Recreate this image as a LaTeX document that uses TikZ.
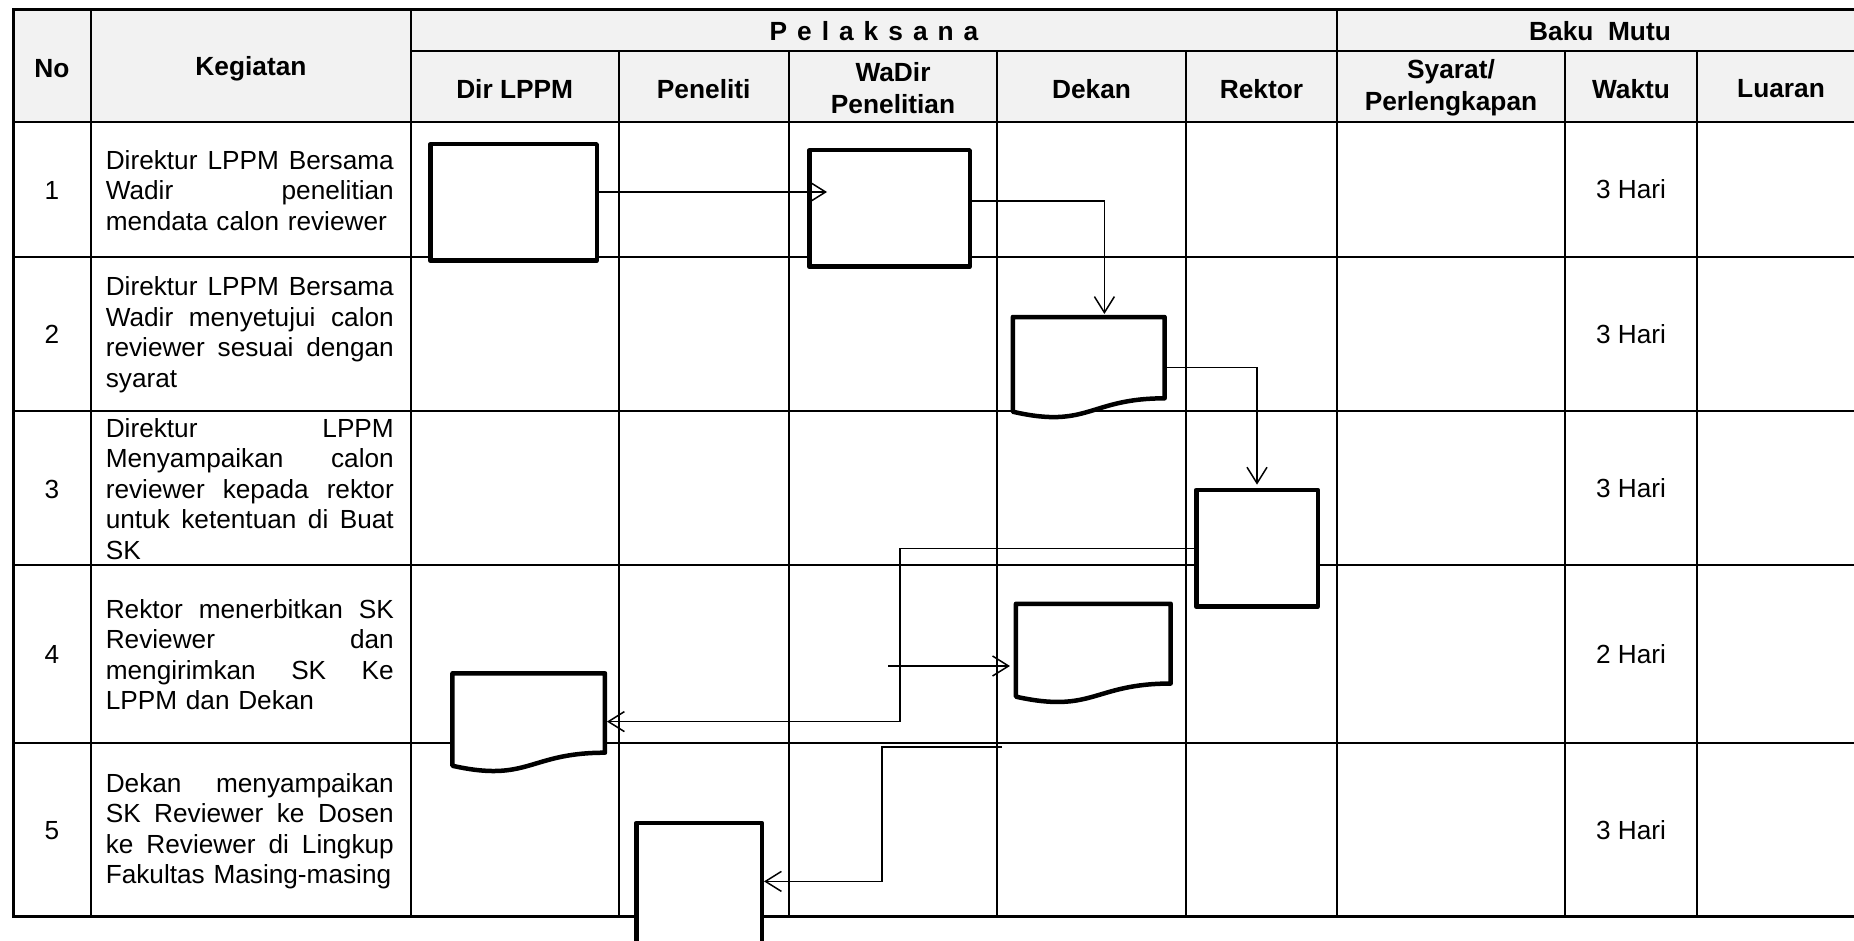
\documentclass[tikz,border=0pt]{standalone}
\usepackage{fontspec}
\setmainfont{Liberation Sans}
\usetikzlibrary{arrows.meta,calc}
\definecolor{hdr}{RGB}{242,242,242}
\newcommand{\jl}[1]{\leavevmode{\spaceskip=0.278em plus 1fil\relax\hbox to 288pt{#1}}}
\newcommand{\docpath}[1]{%
  \draw[docline] (#1.north west) -- (#1.north east)
    -- ($(#1.north east)!0.802!(#1.south east)$)
    .. controls ($(#1.north)!0.802!(#1.south)$) and ($(#1.north)!1.107!(#1.south)$)
    .. ($(#1.north west)!0.934!(#1.south west)$) -- cycle;}
\tikzset{
  gridline/.style={line width=2pt},
  frameline/.style={line width=3pt, line cap=rect},
  procbox/.style={rectangle, draw, fill=white, line width=4.5pt, line join=round, inner sep=0pt},
  docbox/.style={rectangle, inner sep=0pt, outer sep=0pt},
  docline/.style={draw, fill=white, line width=4.5pt, line join=round},
  conn/.style={line width=1.5pt, -{Straight Barb[length=16pt,width=20pt]}},
  hd/.style={font=\fontsize{26.3}{32}\selectfont\bfseries, align=center, inner sep=0pt},
  bt/.style={font=\fontsize{26.2}{30.5}\selectfont, text width=300pt, align=left, inner sep=0pt, anchor=west},
  num/.style={font=\fontsize{26.2}{30.5}\selectfont, inner sep=0pt},
}
\begin{document}
\begin{tikzpicture}[x=1pt,y=-1pt]
\useasboundingbox (0,0) rectangle (1854,941);
% header background
\fill[hdr] (13,10) rectangle (1865,122);
% horizontal lines
\draw[frameline] (13,10) -- (1865,10);
\draw[gridline] (411,51) -- (1865,51);
\draw[gridline, line width=2.7pt] (13,122) -- (1865,122);
\foreach \y in {257,410.7,565,742.7} \draw[gridline] (13,\y) -- (1865,\y);
\draw[frameline] (13,916.5) -- (1865,916.5);
% vertical lines
\draw[frameline] (13,10) -- (13,916.5);
\draw[gridline] (91,10) -- (91,916.5);
\draw[gridline] (411,10) -- (411,916.5);
\foreach \x in {618.5,789,997,1186,1565,1697} \draw[gridline] (\x,51) -- (\x,916.5);
\draw[gridline, line width=2.7pt] (1337,10) -- (1337,916.5);

% header texts
\node[hd] (hNo) at (52,68.5) {No};
\node[hd] (hKeg) at (251,68.5) {Kegiatan};
\node[hd] (hPel) at (874,31) {{\spaceskip=10pt\relax P e l a k s a n a}};
\node[hd] (hBaku) at (1600,31) {Baku\ \ Mutu};
\node[hd] (hDir) at (514.7,89) {Dir LPPM};
\node[hd] (hPen) at (703.7,89) {Peneliti};
\node[hd] (hWa) at (893,88) {WaDir\\Penelitian};
\node[hd] (hDek) at (1091.5,89) {Dekan};
\node[hd] (hRek) at (1261.5,89) {Rektor};
\node[hd] (hSya) at (1451,88) {Syarat/\\Perlengkapan};
\node[hd] (hWak) at (1631,89) {Waktu};
\node[hd] (hLua) at (1781,89) {Luaran};

% numbers
\node[num] (n1) at (52,190.5) {1};
\node[num] (n2) at (52,334.5) {2};
\node[num] (n3) at (52,489) {3};
\node[num] (n4) at (52,654.5) {4};
\node[num] (n5) at (52,831) {5};

% activities
\node[bt] (k1) at (105.6,190.5) {\jl{Direktur LPPM Bersama}\\\jl{Wadir penelitian}\\mendata calon reviewer};
\node[bt] (k2) at (105.6,334.5) {\jl{Direktur LPPM Bersama}\\\jl{Wadir menyetujui calon}\\\jl{reviewer sesuai dengan}\\syarat};
\node[bt] (k3) at (105.6,489) {\jl{Direktur LPPM}\\\jl{Menyampaikan calon}\\\jl{reviewer kepada rektor}\\\jl{untuk ketentuan di Buat}\\SK};
\node[bt] (k4) at (105.6,654.5) {\jl{Rektor menerbitkan SK}\\\jl{Reviewer dan}\\\jl{mengirimkan SK Ke}\\LPPM dan Dekan};
\node[bt] (k5) at (105.6,831) {\jl{Dekan menyampaikan}\\\jl{SK Reviewer ke Dosen}\\\jl{ke Reviewer di Lingkup}\\Fakultas Masing-masing};

% waktu
\node[num] (w1) at (1631,189.5) {3 Hari};
\node[num] (w2) at (1631,333.8) {3 Hari};
\node[num] (w3) at (1631,487.8) {3 Hari};
\node[num] (w4) at (1631,654) {2 Hari};
\node[num] (w5) at (1631,830) {3 Hari};

% flow shapes
\node[procbox, minimum width=166.5pt, minimum height=116.5pt] (A) at (513.5,202.5) {};
\node[procbox, minimum width=160.5pt, minimum height=116.5pt] (B) at (889.5,208.5) {};
\node[docbox, minimum width=151.8pt, minimum height=101.4pt] (C) at (1088.7,367.7) {};
\docpath{C}
\node[procbox, minimum width=121.5pt, minimum height=116.8pt] (D) at (1257,548.3) {};
\node[docbox, minimum width=152.5pt, minimum height=99pt] (E) at (528.7,722.8) {};
\docpath{E}
\node[docbox, minimum width=154.7pt, minimum height=99.5pt] (F) at (1093.3,653.5) {};
\docpath{F}
\node[procbox, minimum width=125.5pt, minimum height=120pt] (G) at (699,883) {};

% connectors
\draw[conn] (A.east |- 0,192) -- ($(B.west |- 0,192)+(20,0)$);
\draw[conn, shorten >=3pt] (B.east |- 0,201) -| ($(C.north)+(15.7,0)$);
\draw[conn, shorten >=3pt] (C.east) -| (D.north);
\coordinate (j1) at (900,721.6);
\draw[conn, shorten >=2pt] (D.west) -| (j1) -- (E.east |- j1);
\coordinate (br) at (888,666);
\draw[conn, shorten >=6pt] (br) -- (F.west |- br);
\coordinate (fo) at (1002,747);
\coordinate (j2) at (882,881.4);
\draw[conn] (fo) -| (j2) -- (G.east |- j2);
\end{tikzpicture}
\end{document}
